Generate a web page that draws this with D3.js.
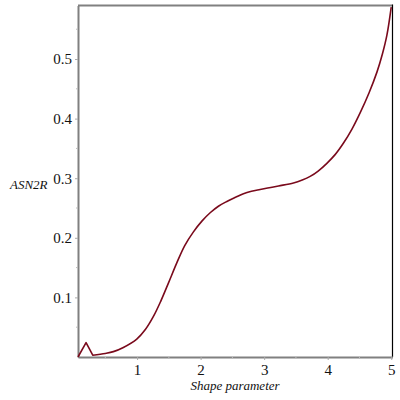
<!DOCTYPE html>
<html><head><meta charset="utf-8">
<script src="https://cdn.jsdelivr.net/npm/d3@7"></script>
<style>body{margin:0;background:#fff}</style>
</head><body><svg id="c" width="400" height="400"></svg>
<script>
const xVals = [0.07,0.197,0.302,0.5,0.627,0.784,0.995,1.13,1.257,1.37,1.493,1.625,1.75,1.887,2.02,2.15,2.28,2.413,2.55,2.674,2.8,2.937,3.08,3.225,3.461,3.6,3.724,3.85,3.987,4.12,4.249,4.38,4.512,4.65,4.775,4.86,4.932,5.0];
const yVals = [0.0,0.024,0.003,0.006,0.009,0.016,0.030,0.046,0.068,0.093,0.124,0.158,0.187,0.210,0.228,0.242,0.253,0.261,0.268,0.274,0.278,0.281,0.284,0.287,0.292,0.297,0.303,0.312,0.325,0.340,0.359,0.382,0.410,0.443,0.478,0.508,0.540,0.587];
const xTicks = [1,2,3,4,5];
const yTicks = [0.1,0.2,0.3,0.4,0.5];
const xMinor = [0.5,1.5,2.5,3.5,4.5];
const yMinor = [0.05,0.15,0.25,0.35,0.45,0.55];

const svg = d3.select("#c");
const L=78, R=392.5, T=5.5, B=357;
const x = d3.scaleLinear().domain([0.07,5.02]).range([L,R]);
const y = d3.scaleLinear().domain([0,0.5898]).range([B,T]);
const gray="#808080";
const serif = "Liberation Serif";
svg.append("line").attr("x1",L).attr("x2",R).attr("y1",T).attr("y2",T).attr("stroke",gray).attr("stroke-width",2);
svg.append("line").attr("x1",R).attr("x2",R).attr("y1",T-1).attr("y2",B).attr("stroke","#000").attr("stroke-width",1.2);
const xa = svg.append("g").attr("transform",`translate(0,${B})`)
  .call(d3.axisBottom(x).tickValues(xTicks).tickFormat(d3.format("d")).tickSize(3).tickSizeOuter(0));
const ya = svg.append("g").attr("transform",`translate(${L},0)`)
  .call(d3.axisLeft(y).tickValues(yTicks).tickFormat(d3.format(".1f")).tickSize(3).tickSizeOuter(0));
[xa,ya].forEach(g=>{
  g.attr("font-family",serif);
  g.select(".domain").attr("stroke",gray).attr("stroke-width",2);
  g.selectAll(".tick line").attr("stroke","#aaa");
  g.selectAll(".tick text").attr("font-family",serif).attr("font-size",15).attr("fill","#111");
});
xa.selectAll(".tick text").attr("dy","0.9em").attr("y",4);
ya.selectAll(".tick text").attr("x",-6);
xa.selectAll(".minor").data(xMinor).enter().append("line").attr("x1",d=>x(d)).attr("x2",d=>x(d)).attr("y1",0).attr("y2",2).attr("stroke","#bbb");
ya.selectAll(".minor").data(yMinor).enter().append("line").attr("y1",d=>y(d)).attr("y2",d=>y(d)).attr("x1",0).attr("x2",-2).attr("stroke","#bbb");
const pts = xVals.map((v,i)=>[v,yVals[i]]);
const lin = d3.line().x(d=>x(d[0])).y(d=>y(d[1]));
const smooth = d3.line().x(d=>x(d[0])).y(d=>y(d[1])).curve(d3.curveCatmullRom.alpha(0.5));
svg.append("path").attr("d", lin(pts.slice(0,3)) + "L" + smooth(pts.slice(2)).slice(1))
  .attr("fill","none").attr("stroke","#7a0a1c").attr("stroke-width",1.6).attr("stroke-linejoin","round");
svg.append("text").attr("x",235).attr("y",390).attr("text-anchor","middle")
  .attr("font-family",serif).attr("font-style","italic").attr("font-size",13).attr("fill","#111").text("Shape parameter");
svg.append("text").attr("x",10).attr("y",189)
  .attr("font-family",serif).attr("font-style","italic").attr("font-size",13).attr("fill","#111").text("ASN2R");
</script></body></html>
